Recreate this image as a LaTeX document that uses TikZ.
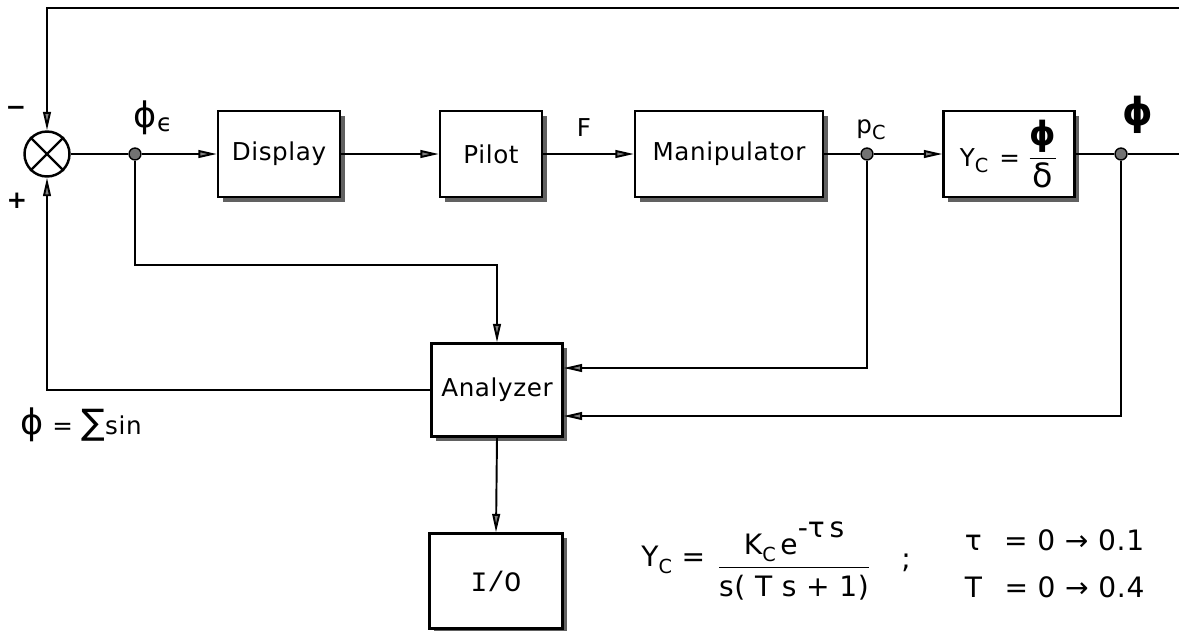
\documentclass[tikz,border=0pt]{standalone}
\usepackage{amsmath}
\usepackage{fontspec}
\setmainfont[LetterSpace=2.5]{DejaVu Sans}
\setmonofont{Liberation Mono}
\newfontfamily\symf{DejaVu Sans}
\usetikzlibrary{arrows.meta,shadows,calc}
\newcommand\lowsub[1]{\raisebox{-0.45ex}{\fontsize{11}{12}\selectfont #1}}
\begin{document}
\begin{tikzpicture}[x=0.02cm,y=-0.02cm,
  line width=1.1pt,
  blk/.style={draw,line width=1.3pt,fill=white,inner sep=0pt,
    font=\fontsize{14}{16}\selectfont,
    general shadow={fill=black!62,shadow xshift=2.6pt,shadow yshift=-2.6pt}},
  ar/.style={-{Triangle[length=10.5pt,width=4.4pt,fill=black!50]}},
  dot/.style={circle,draw,fill=black!55,inner sep=0pt,minimum size=6.8pt,line width=0.8pt},
  lbl/.style={font=\fontsize{14}{16}\selectfont},
  eq/.style={font=\fontsize{16}{19}\selectfont}]
\useasboundingbox (0,0) rectangle (1179,630);
% summing junction
\node[circle,draw,line width=1.4pt,minimum size=0.9cm,inner sep=0pt] (sum) at (47,154) {};
\draw[line width=1.4pt] (sum.45) -- (sum.225) (sum.135) -- (sum.315);
% blocks
\node[blk,minimum width=2.44cm,minimum height=1.72cm] (disp) at (279,154) {Display};
\node[blk,minimum width=2.04cm,minimum height=1.72cm] (pilot) at (491,154) {Pilot};
\node[blk,minimum width=3.76cm,minimum height=1.72cm] (manip) at (729,154) {Manipulator};
\node[blk,minimum width=2.62cm,minimum height=1.72cm] (yc) at (1009,154)
  {Y\lowsub{C}\hspace{0.45em}=\hspace{0.3em}{\fontsize{19}{22}\selectfont$\dfrac{\text{\symf\bfseries ϕ}}{\text{\symf δ}}$}};
\node[blk,minimum width=2.62cm,minimum height=1.86cm] (anl) at (497,390) {Analyzer};
\node[blk,minimum width=2.66cm,minimum height=1.9cm,font=\fontsize{16}{18}\selectfont\ttfamily] (io) at (496,581) {I/O};
% dots
\node[dot] (d1) at (135,154) {};
\node[dot] (d2) at (867,154) {};
\node[dot] (d3) at (1121,154) {};
\coordinate (outr) at (1179,154);
\coordinate (topr) at (1179,8);
\coordinate (k0) at (135,265);
\coordinate (k1) at (867,368);
\coordinate (k2) at (1121,416);
% forward path
\draw (sum.east) -- (d1);
\draw[ar] (d1) -- (disp.west);
\draw[ar] (disp.east) -- (pilot.west);
\draw[ar] (pilot.east) -- (manip.west);
\draw (manip.east) -- (d2);
\draw[ar] (d2) -- (yc.west);
\draw (yc.east) -- (d3) -- (outr);
% feedback
\draw[ar] (topr) -| (sum.north);
\draw[ar] (d1) -- (k0) -| (anl.north);
\draw[ar] (d2) -- (k1) -- (k1 -| anl.east);
\draw[ar] (d3) -- (k2) -- (k2 -| anl.east);
\draw[ar] (anl.west) -| (sum.south);
\draw[ar] (anl.south) -- (io.north);
% labels
\node[lbl] (minus) at (16,111) {\symf\bfseries −};
\node[lbl] (plus) at (17,201) {\symf\bfseries +};
\node[lbl] (phie) at (153,118) {{\fontsize{20}{22}\selectfont\symf ϕ}\raisebox{-0.3ex}{\symf ϵ}};
\node[lbl] (F) at (584,128) {F};
\node[lbl] (pc) at (871,130) {p\lowsub{C}};
\node[lbl] (phi) at (1138,115) {\fontsize{22}{24}\selectfont\symf\bfseries ϕ};
\node[lbl,anchor=west] (sumsin) at (14,425) {{\fontsize{20}{22}\selectfont\symf ϕ} = {\fontsize{20}{22}\selectfont\symf ∑}sin};
% formula
\node[eq,anchor=east] (yeq) at (712,560) {Y\lowsub{C} =};
\node[eq] (frac) at (794,561)
  {$\dfrac{\text{K\lowsub{C}\,e\raisebox{1.1ex}{-\symf τ\,s}}}{\text{s( T s + 1)}}$};
\node[eq] (semi) at (906,563) {;};
\node[eq,anchor=west] (tau) at (958,540) {{\symf τ}\hspace{0.8em}= 0 {\symf →} 0.1};
\node[eq,anchor=west] (Tl) at (958,587) {T\hspace{0.8em}= 0 {\symf →} 0.4};
\end{tikzpicture}
\end{document}
